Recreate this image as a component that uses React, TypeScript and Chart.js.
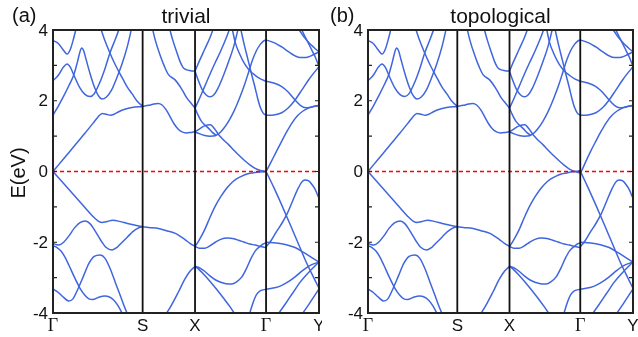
import React, { useEffect, useRef } from 'react';
import { Chart, registerables } from 'chart.js';
Chart.register(...registerables);

// high-symmetry path (k in % of path length)
const kTicks = [0, 33.7, 53.4, 80.1, 100];
const kLabels = ['Γ', 'S', 'X', 'Γ', 'Y'];
const yTickLabels = [-4, -2, 0, 2, 4];
const yMinor = [-4, -3, -2, -1, 0, 1, 2, 3, 4];

// ---- Γ–S ----
const gsA = [[0, 3.7], [2, 3.62], [4, 3.42], [5.3, 3.32], [6.5, 3.45], [7.6, 3.72], [8.9, 4.1]];
const gsB = [[0, 2.57], [2, 2.72], [4, 2.96], [5.3, 3.04], [6.5, 2.95], [8, 2.7], [10, 2.38], [12, 2.18], [13.9, 2.12], [15.5, 2.2], [17.5, 2.5], [19.5, 2.9], [21.4, 3.35], [23.5, 3.75], [25.2, 4.1]];
const gsC = [[0, 1.59], [2, 1.85], [4, 2.13], [6, 2.43], [7.9, 2.75], [9.2, 3.1], [10.2, 3.4], [10.8, 3.49], [11.5, 3.42], [12.5, 3.15], [14, 2.75], [15.5, 2.4], [17, 2.15], [18.4, 2.05], [20, 2.1], [22, 2.3], [24, 2.65], [26, 3.05], [28, 3.55], [29.7, 4.1]];
const gsD = [[17.7, 4.1], [19.5, 3.7], [21.4, 3.35], [23, 3.08], [24.7, 2.83], [26.5, 2.58], [28, 2.38], [29.7, 2.2], [31.5, 2.0], [33.7, 1.84]];
const gsCB = [[0, 0], [4, 0.36], [8, 0.72], [12, 1.08], [15, 1.36], [17, 1.55], [18.5, 1.64], [20, 1.62], [21.6, 1.59], [23, 1.62], [24.7, 1.69], [27, 1.76], [29.7, 1.81], [33.7, 1.84]];
const gsV0 = [[0, 0], [4, -0.34], [8, -0.68], [12, -1.02], [15, -1.27], [17, -1.4], [18.5, -1.44], [20, -1.42], [22.5, -1.38], [25, -1.41], [28, -1.47], [31, -1.52], [33.7, -1.56]];
const gsV1 = [[0, -2.03], [1, -2.06], [2.2, -2.08], [4, -2.0], [6, -1.82], [8, -1.6], [10, -1.45], [12.2, -1.4], [14, -1.48], [16, -1.7], [18, -1.95], [20, -2.15], [22.2, -2.22], [24, -2.15], [26, -2.0], [28, -1.85], [30, -1.7], [32, -1.6], [33.7, -1.56]];
const gsL2 = [[0, -2.1], [1.5, -2.15], [3, -2.25], [4.5, -2.42], [6, -2.65], [8, -2.98], [10, -3.28], [12, -3.5], [13.5, -3.6], [15, -3.62], [17, -3.56], [19.5, -3.52], [21, -3.54], [22.8, -3.63], [24.5, -3.8], [26.6, -4.1]];
const gsL1 = [[0, -3.32], [2, -3.42], [4, -3.56], [5.9, -3.66], [7.5, -3.6], [9.5, -3.3], [11.5, -2.95], [13.5, -2.6], [15.5, -2.4], [17.8, -2.36], [19.5, -2.45], [21.5, -2.75], [23.5, -3.15], [25.5, -3.55], [27, -3.85], [28.4, -4.1]];

// ---- S–X ----
const sxCB = [[33.7, 1.84], [36, 1.87], [38, 1.91], [39.5, 1.92], [41, 1.88], [42.5, 1.75], [44, 1.55], [45.5, 1.35], [47, 1.2], [48.5, 1.12], [50, 1.09], [51.5, 1.1], [53.4, 1.13]];
const sxU1 = [[37.2, 4.1], [38.5, 3.7], [40.2, 3.3], [42, 2.95], [43.4, 2.74], [45.9, 2.59], [47.7, 2.41], [49, 2.25], [50.3, 2.08], [52, 1.92], [53.4, 1.79]];
const sxU2 = [[43.6, 4.1], [45, 3.72], [46.5, 3.38], [47.7, 3.12], [48.8, 2.95], [50, 2.88], [51.7, 2.85], [53.4, 2.84]];
const sxV1 = [[33.7, -1.56], [36, -1.58], [39.7, -1.61], [43, -1.68], [46, -1.75], [48, -1.84], [49.7, -1.93], [51.5, -2.03], [53.4, -2.12]];
const sxL = [[41.8, -4.1], [44, -3.85], [47.2, -3.4], [49.5, -3.05], [51.5, -2.82], [53.4, -2.68]];

// ---- X–Γ ----
const xgA = [[53.4, 2.84], [55, 3.12], [57, 3.45], [59, 3.78], [60.6, 4.1]];
const xgB = [[53.4, 2.84], [54.5, 2.6], [56, 2.33], [57.5, 2.17], [59, 2.11], [60.5, 2.17], [62, 2.35], [64, 2.7], [66, 3.1], [68, 3.55], [69.8, 4.1]];
const xgC = [[53.4, 1.79], [55, 2.05], [57, 2.4], [59, 2.75], [61, 3.08], [63, 3.4], [65, 3.75], [66.7, 4.1]];
const xgD = [[53.4, 1.79], [54.5, 1.6], [55.7, 1.43], [57, 1.32], [58.5, 1.22], [60, 1.1], [61.5, 1.02]];
const xgE = [[53.4, 1.12], [55, 1.2], [57, 1.29], [59.2, 1.32], [60.8, 1.2], [62.3, 1.04], [64, 0.9], [66, 0.76], [68, 0.6], [70, 0.45], [72, 0.31], [74, 0.19], [76, 0.09], [78, 0.03], [80.1, 0]];
const xgF = [[53.4, 1.12], [55, 1.07], [57, 1.02], [59, 1.0], [61, 1.01], [62.5, 1.08], [64, 1.2], [66, 1.42], [68, 1.7], [70, 2.05], [72, 2.45], [73.5, 2.8], [75, 3.15], [76.5, 3.42], [78, 3.6], [79, 3.68], [80.1, 3.72]];
const xgG = [[70.4, 4.1], [71, 3.88], [72, 3.55], [73, 3.25], [74, 2.95], [75, 2.65], [76, 2.36], [77, 2.05], [78, 1.8], [79, 1.65], [80.1, 1.59]];
const xgH = [[67.2, 4.1], [68.5, 3.65], [70, 3.35], [72, 3.05], [74, 2.85], [76, 2.72], [78, 2.62], [80.1, 2.55]];
const xgVB = [[53.4, -2.12], [55, -1.93], [57, -1.65], [59, -1.3], [61, -0.98], [63, -0.72], [65, -0.5], [67, -0.33], [69, -0.21], [71, -0.13], [73, -0.07], [75, -0.04], [77, -0.02], [80.1, 0]];
const xgBump = [[53.4, -2.12], [55, -2.17], [57, -2.17], [59, -2.1], [61, -2.0], [63, -1.92], [65.5, -1.88], [68, -1.9], [70, -1.95], [72, -2.0], [74, -2.05], [76, -2.08], [78, -2.12], [80.1, -2.15]];
const xgMin = [[53.4, -2.68], [55, -2.72], [57, -2.82], [59, -2.95], [61, -3.06], [63, -3.13], [65, -3.17], [67.2, -3.18], [69, -3.12], [71, -2.98], [72.8, -2.73], [74.5, -2.45], [76, -2.25], [77.8, -2.12], [79, -2.05], [80.1, -2.02]];
const xgDown = [[53.4, -2.68], [55, -2.78], [57, -2.93], [59, -3.1], [61.5, -3.33], [64, -3.57], [66.5, -3.82], [69, -4.1]];
const xgUp = [[73.6, -4.1], [75, -3.75], [76.5, -3.48], [78, -3.37], [80.1, -3.33]];

// ---- Γ–Y ----
const gyTop = [[80.1, 3.72], [83.5, 3.63], [86, 3.52], [88.5, 3.39], [91, 3.27], [93, 3.22], [95, 3.22], [97, 3.27], [100, 3.38]];
const gyP = [[91.6, 4.1], [93, 3.95], [94.7, 3.77], [96.5, 3.62], [98.2, 3.5], [100, 3.38]];
const gyQ = [[92.9, 4.1], [94.5, 3.85], [96, 3.63], [97.3, 3.43], [98.5, 3.25], [100, 2.97]];
const gyM1 = [[80.1, 2.55], [83, 2.5], [86, 2.4], [88.5, 2.24], [91, 2.02], [93, 1.87], [95, 1.8], [97.5, 1.83], [100, 1.87]];
const gyM2 = [[80.1, 1.59], [83, 1.6], [86, 1.66], [88.5, 1.8], [91, 2.02], [93.5, 2.3], [96, 2.58], [98, 2.78], [100, 2.96]];
const gyCB = [[80.1, 0], [82, 0.27], [84, 0.57], [86, 0.86], [88, 1.14], [90, 1.39], [92, 1.58], [94, 1.71], [96, 1.79], [98, 1.84], [100, 1.86]];
const gyVB = [[80.1, 0], [83, -0.45], [86, -0.95], [89, -1.47], [92, -2.0], [95, -2.53], [98, -3.0], [100, -3.3]];
const gyFlat = [[80.1, -2.0], [84, -2.02], [87.7, -2.07], [91, -2.15], [94, -2.28], [97, -2.42], [100, -2.56]];
const gyPeak = [[80.1, -2.13], [82, -1.95], [84, -1.7], [86, -1.47], [88, -1.2], [90, -0.85], [92, -0.5], [93.5, -0.3], [94.7, -0.24], [96, -0.26], [97.5, -0.38], [98.5, -0.5], [100, -0.76]];
const gyLow = [[80.1, -3.33], [83.8, -3.28], [86, -3.22], [88.8, -3.1], [91, -2.98], [93.8, -2.8], [96.5, -2.66], [100, -2.56]];
const gyR1 = [[84, -4.1], [87, -3.78], [90, -3.45], [93, -3.12], [96, -2.86], [100, -2.56]];
const gyR2 = [[93, -4.1], [96.5, -3.72], [100, -3.32]];

// topological panel: band inversion near Γ
const xgE_topo = [[53.4, 1.12], [55, 1.2], [57, 1.29], [59.2, 1.32], [60.8, 1.2], [62.3, 1.04], [64, 0.9], [66, 0.76], [68, 0.6], [70, 0.45], [72, 0.31], [74, 0.18], [76, 0.07], [78, 0.0], [80.1, -0.04]];
const xgVB_topo = [[53.4, -2.12], [55, -1.93], [57, -1.65], [59, -1.3], [61, -0.98], [63, -0.72], [65, -0.5], [67, -0.33], [69, -0.21], [71, -0.13], [73, -0.07], [75, -0.04], [77, -0.01], [78.5, 0.01], [80.1, 0.02]];
const gyCB_topo = [[80.1, -0.04], [81, 0.08], [82, 0.25], [84, 0.57], [86, 0.86], [88, 1.14], [90, 1.39], [92, 1.58], [94, 1.71], [96, 1.79], [98, 1.84], [100, 1.86]];
const gyVB_topo = [[80.1, 0.02], [81, -0.13], [83, -0.45], [86, -0.95], [89, -1.47], [92, -2.0], [95, -2.53], [98, -3.0], [100, -3.3]];

const common = [gsA, gsB, gsC, gsD, gsCB, gsV0, gsV1, gsL2, gsL1, sxCB, sxU1, sxU2, sxV1, sxL,
  xgA, xgB, xgC, xgD, xgF, xgG, xgH, xgBump, xgMin, xgDown, xgUp,
  gyTop, gyP, gyQ, gyM1, gyM2, gyFlat, gyPeak, gyLow, gyR1, gyR2];
const trivialBands = [...common, xgE, xgVB, gyCB, gyVB];
const topoBands = [...common, xgE_topo, xgVB_topo, gyCB_topo, gyVB_topo];

const BAND_COLOR = '#3f66de';
const SANS = '"Liberation Sans", Arial, sans-serif';
const SERIF = '"Liberation Serif", "Times New Roman", serif';

type PanelCfg = { w: number; left: number; right: number; title: string; tag: string; tagX: number; yTitle: boolean; bands: number[][][] };

function Panel({ cfg }: { cfg: PanelCfg }) {
  const ref = useRef<HTMLCanvasElement>(null);
  useEffect(() => {
    const canvas = ref.current!;
    const deco = {
      id: 'deco',
      afterDatasetsDraw(chart: any) {
        const { ctx, chartArea: a, scales } = chart;
        const xs = scales.x, ys = scales.y;
        ctx.save();
        // Fermi level
        ctx.strokeStyle = '#ff0000';
        ctx.lineWidth = 1.5;
        ctx.setLineDash([4, 3]);
        ctx.beginPath();
        ctx.moveTo(a.left, ys.getPixelForValue(0));
        ctx.lineTo(a.right, ys.getPixelForValue(0));
        ctx.stroke();
        ctx.setLineDash([]);
        // high symmetry lines
        ctx.strokeStyle = '#111';
        ctx.lineWidth = 1.8;
        kTicks.slice(1, 4).forEach((k) => {
          const px = xs.getPixelForValue(k);
          ctx.beginPath();
          ctx.moveTo(px, a.top);
          ctx.lineTo(px, a.bottom);
          ctx.stroke();
        });
        // ticks (inward)
        ctx.lineWidth = 1.2;
        ctx.strokeStyle = '#222';
        yMinor.forEach((v) => {
          const py = ys.getPixelForValue(v);
          ctx.beginPath();
          ctx.moveTo(a.left, py); ctx.lineTo(a.left + 4, py);
          ctx.moveTo(a.right, py); ctx.lineTo(a.right - 4, py);
          ctx.stroke();
        });
        // frame
        ctx.lineWidth = 2;
        ctx.strokeStyle = '#222';
        ctx.strokeRect(a.left, a.top, a.right - a.left, a.bottom - a.top);
        ctx.restore();
      },
      afterDraw(chart: any) {
        const { ctx, chartArea: a, scales } = chart;
        const xs = scales.x, ys = scales.y;
        ctx.save();
        ctx.fillStyle = '#111';
        // y tick labels
        ctx.font = `17px ${SANS}`;
        ctx.textAlign = 'right';
        ctx.textBaseline = 'middle';
        yTickLabels.forEach((v) => ctx.fillText(String(v), a.left - 5, ys.getPixelForValue(v) + 1));
        // x labels
        ctx.textAlign = 'center';
        ctx.textBaseline = 'alphabetic';
        kTicks.forEach((k, i) => {
          const lab = kLabels[i];
          ctx.font = lab === 'Γ' ? `18px ${SERIF}` : `17px ${SANS}`;
          ctx.fillText(lab, xs.getPixelForValue(k), 331);
        });
        // title and tag
        ctx.font = `21px ${SANS}`;
        ctx.fillText(cfg.title, (a.left + a.right) / 2, 23);
        ctx.font = `20px ${SANS}`;
        ctx.textAlign = 'left';
        ctx.fillText(cfg.tag, cfg.tagX, 22);
        if (cfg.yTitle) {
          ctx.translate(19, 173);
          ctx.rotate(-Math.PI / 2);
          ctx.textAlign = 'center';
          ctx.textBaseline = 'middle';
          ctx.font = `20px ${SANS}`;
          ctx.fillText('E(eV)', 0, 0);
        }
        ctx.restore();
      },
    };
    const chart = new Chart(canvas, {
      type: 'line',
      data: {
        datasets: cfg.bands.map((b) => ({
          data: b.map(([x, y]) => ({ x, y })),
          borderColor: BAND_COLOR,
          borderWidth: 1.5,
          pointRadius: 0,
          cubicInterpolationMode: 'monotone' as const,
          fill: false,
        })),
      },
      options: {
        animation: false,
        responsive: false,
        maintainAspectRatio: false,
        layout: { padding: { left: cfg.left, right: cfg.right, top: 30, bottom: 24 } },
        plugins: { legend: { display: false }, tooltip: { enabled: false } },
        scales: {
          x: { type: 'linear', min: 0, max: 100, display: false },
          y: { type: 'linear', min: -4, max: 4, display: false },
        },
      },
      plugins: [deco],
    });
    return () => chart.destroy();
  }, [cfg]);
  return <canvas ref={ref} width={cfg.w} height={337} style={{ display: 'block', width: cfg.w, height: 337 }} />;
}

const cfgA: PanelCfg = { w: 322, left: 53, right: 3, title: 'trivial', tag: '(a)', tagX: 12, yTitle: true, bands: trivialBands };
const cfgB: PanelCfg = { w: 316, left: 46, right: 5, title: 'topological', tag: '(b)', tagX: 8, yTitle: false, bands: topoBands };

export default function App() {
  return (
    <div style={{ position: 'fixed', left: 0, top: 0, width: 638, height: 337, background: '#fff', display: 'flex' }}>
      <Panel cfg={cfgA} />
      <Panel cfg={cfgB} />
    </div>
  );
}
